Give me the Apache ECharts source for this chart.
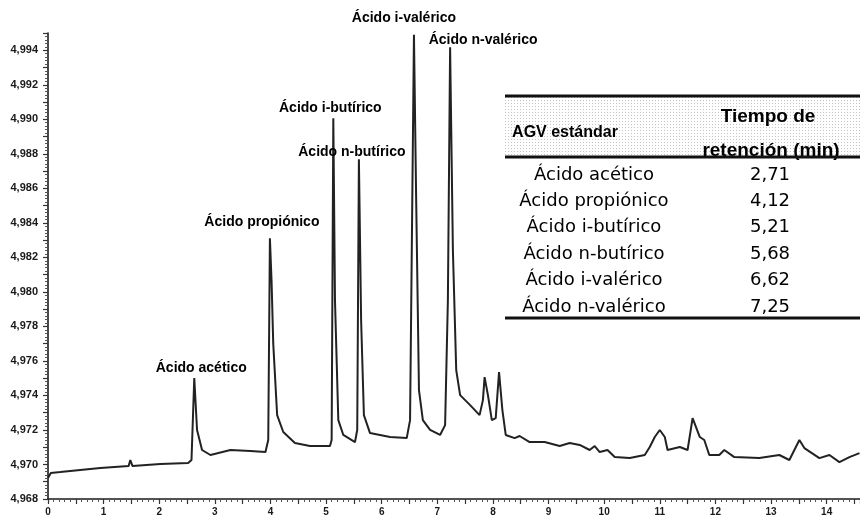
<!DOCTYPE html>
<html>
<head>
<meta charset="utf-8">
<script src="https://cdn.jsdelivr.net/npm/echarts@6/dist/echarts.min.js"></script>
<style>
  html, body { margin: 0; padding: 0; background: #ffffff; }
  #chart { width: 860px; height: 524px; }
</style>
</head>
<body>
<div id="chart"></div>
<script>
// Chromatogram trace: retention time (min) and detector signal
const retentionTime = [
  0.00, 0.05, 0.22, 0.58, 0.94, 1.45, 1.48, 1.52, 2.02, 2.52,
  2.58, 2.63, 2.68, 2.77, 2.92, 3.28, 3.64, 3.91, 3.96, 3.99,
  4.02, 4.05, 4.12, 4.23, 4.44, 4.71, 5.07, 5.10, 5.13, 5.16,
  5.22, 5.31, 5.52, 5.56, 5.59, 5.63, 5.68, 5.79, 6.15, 6.45,
  6.51, 6.55, 6.58, 6.62, 6.67, 6.74, 6.87, 7.05, 7.14, 7.19,
  7.23, 7.28, 7.34, 7.41, 7.59, 7.76, 7.82, 7.85, 7.91, 7.98,
  8.05, 8.11, 8.17, 8.23, 8.39, 8.48, 8.66, 8.93, 9.20, 9.38,
  9.56, 9.74, 9.83, 9.92, 10.06, 10.19, 10.46, 10.73, 10.82, 10.91,
  11.00, 11.09, 11.14, 11.36, 11.50, 11.59, 11.72, 11.80, 11.89, 12.07,
  12.16, 12.34, 12.79, 13.15, 13.33, 13.51, 13.60, 13.87, 14.05, 14.23,
  14.41, 14.59
];
const detectorSignal = [
  4.96922, 4.96951, 4.96956, 4.96968, 4.96980, 4.96991, 4.97026, 4.96991, 4.97003, 4.97008,
  4.97026, 4.97501, 4.97200, 4.97084, 4.97055, 4.97084, 4.97078, 4.97072, 4.97142, 4.98311,
  4.98060, 4.97700, 4.97286, 4.97188, 4.97124, 4.97107, 4.97107, 4.97142, 4.99006, 4.97952,
  4.97257, 4.97171, 4.97130, 4.97200, 4.98769, 4.97836, 4.97286, 4.97182, 4.97159, 4.97153,
  4.97257, 4.98531, 4.99490, 4.98531, 4.97431, 4.97257, 4.97200, 4.97171, 4.97228, 4.97952,
  4.99417, 4.98242, 4.97547, 4.97402, 4.97344, 4.97286, 4.97373, 4.97506, 4.97402, 4.97257,
  4.97269, 4.97535, 4.97315, 4.97171, 4.97153, 4.97165, 4.97130, 4.97130, 4.97107, 4.97124,
  4.97113, 4.97084, 4.97107, 4.97072, 4.97084, 4.97043, 4.97037, 4.97055, 4.97101, 4.97159,
  4.97200, 4.97159, 4.97084, 4.97101, 4.97084, 4.97269, 4.97159, 4.97142, 4.97055, 4.97055,
  4.97084, 4.97043, 4.97037, 4.97055, 4.97026, 4.97142, 4.97095, 4.97037, 4.97055, 4.97014,
  4.97043, 4.97066
];

// Identified peaks
const peakNames = ['Ácido acético', 'Ácido propiónico', 'Ácido i-butírico', 'Ácido n-butírico', 'Ácido i-valérico', 'Ácido n-valérico'];
const peakTimes = [2.63, 3.99, 5.13, 5.59, 6.58, 7.23];

// Reference table of standards
const tableHeader = ['AGV estándar', 'Tiempo de', 'retención (min)'];
const standardNames = ['Ácido acético', 'Ácido propiónico', 'Ácido i-butírico', 'Ácido n-butírico', 'Ácido i-valérico', 'Ácido n-valérico'];
const standardTimes = ['2,71', '4,12', '5,21', '5,68', '6,62', '7,25'];

// Axis ranges
const timeRange = [0, 14.6];
const signalRange = [4.968, 4.995];

const chart = echarts.init(document.getElementById('chart'), null, { renderer: 'canvas' });

const trace = retentionTime.map((t, i) => [t, detectorSignal[i]]);

// label offsets for each peak name (px, relative to the apex)
const labelOffsets = [[7, -10], [-8, -16], [-3, -10], [-7, -7], [-10, -17], [33, -7]];
const peakPoints = peakTimes.map((t, i) => {
  const idx = retentionTime.indexOf(t);
  return {
    value: [t, detectorSignal[idx]],
    label: { offset: labelOffsets[i], formatter: peakNames[i] }
  };
});

// dotted fill for the table header
const dotCanvas = document.createElement('canvas');
dotCanvas.width = 3; dotCanvas.height = 3;
const dctx = dotCanvas.getContext('2d');
dctx.fillStyle = '#ffffff'; dctx.fillRect(0, 0, 3, 3);
dctx.fillStyle = '#c4c4c4'; dctx.fillRect(1, 1, 1, 1);

const rowFont = '18px "DejaVu Sans", sans-serif';
const headFont = 'bold 19px "Liberation Sans", Arial, sans-serif';
const tableTop = 96, headBottom = 157, tableBottom = 318;
const rowStart = 175, rowStep = 26.4;
const nameX = 594, timeX = 770;

const tableGraphics = [
  { type: 'rect', shape: { x: 505, y: tableTop, width: 355, height: headBottom - tableTop },
    style: { fill: { image: dotCanvas, repeat: 'repeat' } }, z: 1 },
  { type: 'text', x: 565, y: 133, style: { text: tableHeader[0], font: 'bold 16px "Liberation Sans", Arial, sans-serif', fill: '#000', align: 'center', verticalAlign: 'middle' }, z: 3 },
  { type: 'text', x: 768, y: 117, style: { text: tableHeader[1], font: headFont, fill: '#000', align: 'center', verticalAlign: 'middle' }, z: 3 },
  { type: 'text', x: 771, y: 151, style: { text: tableHeader[2], font: headFont, fill: '#000', align: 'center', verticalAlign: 'middle' }, z: 3 },
  { type: 'line', shape: { x1: 505, y1: tableTop, x2: 860, y2: tableTop }, style: { stroke: '#111', lineWidth: 3 }, z: 4 },
  { type: 'line', shape: { x1: 505, y1: headBottom, x2: 860, y2: headBottom }, style: { stroke: '#111', lineWidth: 3 }, z: 4 },
  { type: 'line', shape: { x1: 505, y1: tableBottom, x2: 860, y2: tableBottom }, style: { stroke: '#111', lineWidth: 3 }, z: 4 }
];
standardNames.forEach((name, i) => {
  tableGraphics.push({ type: 'text', x: nameX, y: rowStart + i * rowStep,
    style: { text: name, font: rowFont, fill: '#000', align: 'center', verticalAlign: 'middle' }, z: 3 });
  tableGraphics.push({ type: 'text', x: timeX, y: rowStart + i * rowStep,
    style: { text: standardTimes[i], font: rowFont, fill: '#000', align: 'center', verticalAlign: 'middle' }, z: 3 });
});

const axisFont = { fontFamily: '"Liberation Sans", Arial, sans-serif', fontWeight: 'bold', fontSize: 10, color: '#1a1a1a' };

chart.setOption({
  animation: false,
  backgroundColor: '#ffffff',
  grid: { left: 48, right: 0, top: 33, bottom: 25, containLabel: false },
  xAxis: {
    type: 'value',
    min: timeRange[0], max: timeRange[1], interval: 0.5,
    axisLine: { show: true, lineStyle: { color: '#1a1a1a', width: 1.6 } },
    axisTick: { show: true, length: 5, lineStyle: { color: '#333', width: 1.2 } },
    minorTick: { show: true, splitNumber: 5, length: 3, lineStyle: { color: '#555', width: 1 } },
    splitLine: { show: false },
    axisLabel: Object.assign({
      margin: 8,
      showMaxLabel: false,
      formatter: v => (Math.abs(v - Math.round(v)) < 1e-9 ? String(Math.round(v)) : '')
    }, axisFont)
  },
  yAxis: {
    type: 'value',
    min: signalRange[0], max: signalRange[1], interval: 0.001,
    axisLine: { show: true, lineStyle: { color: '#1a1a1a', width: 1.6 } },
    axisTick: { show: true, length: 5, lineStyle: { color: '#333', width: 1.2 } },
    minorTick: { show: true, splitNumber: 5, length: 3, lineStyle: { color: '#555', width: 1 } },
    splitLine: { show: false },
    axisLabel: Object.assign({
      margin: 10,
      showMaxLabel: false,
      formatter: v => {
        const k = Math.round(v * 1000);
        return k % 2 === 0 ? (k / 1000).toFixed(3).replace('.', ',') : '';
      }
    }, axisFont, { fontSize: 11 })
  },
  series: [
    {
      type: 'line',
      data: trace,
      showSymbol: false,
      symbol: 'none',
      lineStyle: { color: '#222222', width: 2 },
      z: 2
    },
    {
      type: 'scatter',
      data: peakPoints,
      symbolSize: 0,
      silent: true,
      itemStyle: { opacity: 1 },
      label: {
        show: true,
        position: 'inside',
        color: '#000',
        opacity: 1,
        fontFamily: '"Liberation Sans", Arial, sans-serif',
        fontWeight: 'bold',
        fontSize: 14
      },
      z: 5
    }
  ],
  graphic: tableGraphics
});
</script>
</body>
</html>
